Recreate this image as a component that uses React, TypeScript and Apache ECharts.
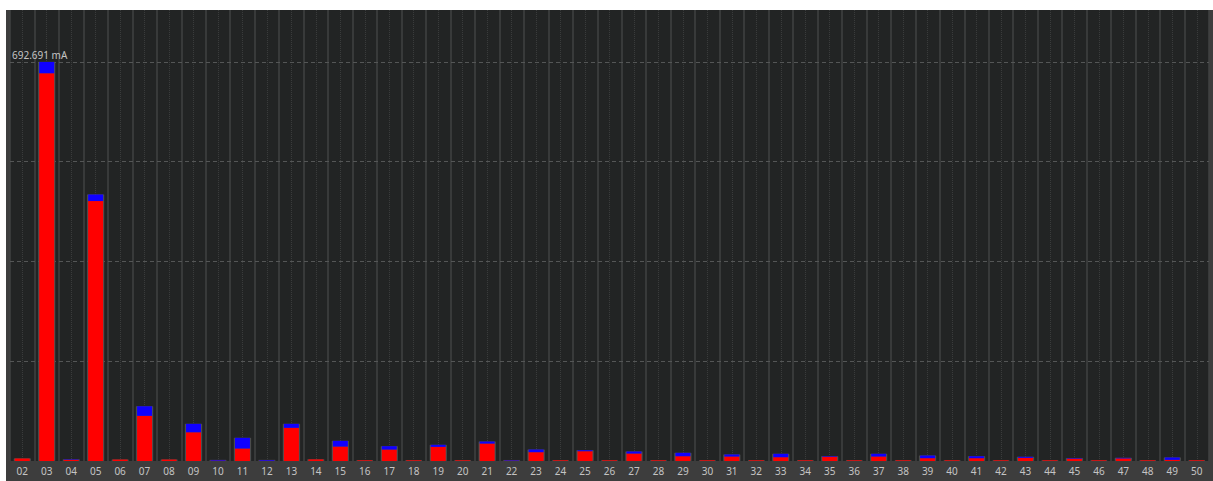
import React, { useEffect, useRef } from "react";
import * as echarts from "echarts";

const categories = [
  "02","03","04","05","06","07","08","09","10","11","12","13","14","15","16","17","18","19","20","21","22","23","24","25","26",
  "27","28","29","30","31","32","33","34","35","36","37","38","39","40","41","42","43","44","45","46","47","48","49","50",
];

// lower (red) part of each bar, mA
const redValues = [
  4.5, 673.1, 2.0, 451.2, 2.5, 78.4, 2.5, 49.9, 0.6, 21.7, 0.6, 57.6, 2.8, 25.1, 1.2, 19.9, 1.2, 24.6, 1.2, 30.3, 0.6, 15.3, 1.2, 17.0, 1.2,
  13.0, 1.2, 8.3, 1.2, 7.8, 1.2, 6.6, 1.2, 7.3, 1.2, 7.8, 1.2, 4.9, 1.2, 4.9, 1.2, 5.5, 1.2, 4.0, 1.2, 4.5, 1.2, 2.0, 1.2,
];

// upper (blue) part of each bar, mA
const blueValues = [
  0, 19.6, 0.8, 11.4, 0, 16.6, 0, 14.6, 1.2, 18.5, 1.2, 6.9, 0, 9.9, 0, 5.8, 0, 3.5, 0, 3.5, 0.8, 4.6, 0, 1.7, 0,
  3.5, 0, 5.9, 0, 3.5, 0, 5.9, 0, 1.0, 0, 4.7, 0, 4.6, 0, 3.4, 0, 1.8, 0, 0.9, 0, 1.0, 0, 4.1, 0,
];

const maxValue = 692.691;
const maxLabel = "692.691 mA";
const axisMax = 782.85; // headroom above the peak marker
const gridFractions = [0.25, 0.5, 0.75];

export default function App() {
  const ref = useRef<HTMLDivElement>(null);

  useEffect(() => {
    if (!ref.current) return;
    const chart = echarts.init(ref.current, undefined, { renderer: "svg" });
    const totals = redValues.map((v, i) => +(v + blueValues[i]).toFixed(3));
    const dashed = { color: "#545656", type: [4, 3] as number[], width: 1 };
    chart.setOption({
      animation: false,
      backgroundColor: "#3d3d3d",
      grid: {
        left: 4,
        right: 4,
        top: 0,
        bottom: 20,
        show: true,
        backgroundColor: "#222424",
        borderWidth: 0,
      },
      xAxis: [
        {
          type: "category",
          data: categories,
          boundaryGap: true,
          axisLine: { show: false },
          axisTick: { show: false },
          axisLabel: {
            color: "#c4c4c4",
            fontSize: 10,
            fontFamily: "Noto Sans",
            margin: 5,
            interval: 0,
          },
          splitLine: {
            show: true,
            interval: 0,
            lineStyle: { color: "#404242", width: 1.5 },
          },
        },
        {
          type: "category",
          data: categories,
          boundaryGap: true,
          show: false,
        },
      ],
      yAxis: {
        type: "value",
        min: 0,
        max: axisMax,
        axisLine: { show: false },
        axisTick: { show: false },
        axisLabel: { show: false },
        splitLine: { show: false },
      },
      series: [
        {
          name: "guides",
          type: "line",
          data: [],
          z: 1,
          markLine: {
            silent: true,
            z: 1,
            symbol: "none",
            lineStyle: { color: "#3a3c3c", type: "dotted", width: 1 },
            label: { show: false },
            data: categories.map((c) => ({ xAxis: c })),
          },
        },
        {
          name: "levels",
          type: "line",
          data: [],
          z: 1,
          markLine: {
            silent: true,
            z: 1,
            symbol: "none",
            lineStyle: dashed,
            label: { show: false },
            data: gridFractions.map((f) => ({ yAxis: maxValue * f })),
          },
        },
        {
          name: "peak",
          type: "line",
          data: [],
          z: 1,
          markLine: {
            silent: true,
            z: 1,
            symbol: "none",
            lineStyle: dashed,
            label: {
              show: true,
              position: "insideStartTop",
              formatter: maxLabel,
              color: "#c4c4c4",
              fontSize: 10,
              fontFamily: "Noto Sans",
              distance: [2, 2],
            },
            data: [{ yAxis: maxValue }],
          },
        },
        {
          name: "outline",
          type: "bar",
          xAxisIndex: 1,
          data: totals,
          barWidth: 17,
          z: 2,
          itemStyle: { color: "#555757", borderColor: "#555757", borderWidth: 0.5 },
        },
        {
          name: "red",
          type: "bar",
          stack: "total",
          data: redValues,
          barWidth: 15,
          z: 3,
          itemStyle: { color: "#ff0000" },
        },
        {
          name: "blue",
          type: "bar",
          stack: "total",
          data: blueValues,
          barWidth: 15,
          z: 3,
          itemStyle: { color: "#1000ff" },
        },
      ],
    });
    return () => chart.dispose();
  }, []);

  return (
    <div
      ref={ref}
      style={{ position: "absolute", left: 6, top: 10, width: 1207, height: 471 }}
    />
  );
}
